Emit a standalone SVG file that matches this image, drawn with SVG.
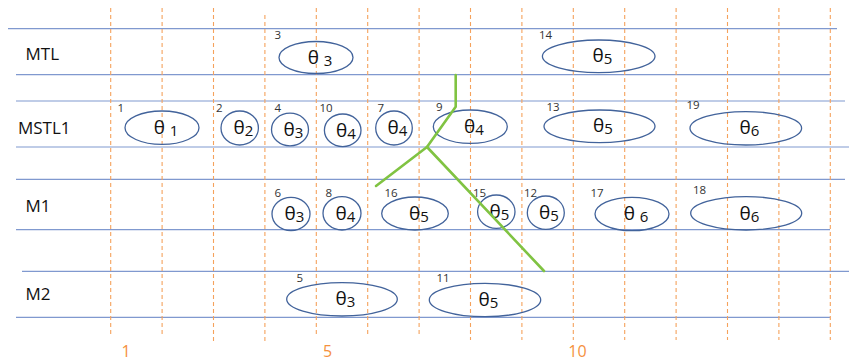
<svg xmlns="http://www.w3.org/2000/svg" width="849" height="362" viewBox="0 0 849 362">
<style>
.h{stroke:#8099cf;stroke-width:1.2;fill:none}
.v{stroke:#f5a25c;stroke-width:1.1;stroke-dasharray:4 3;fill:none}
.e{stroke:#42639b;stroke-width:1.3;fill:none}
.row{font-family:"Open Sans","Liberation Sans",sans-serif;font-size:17px;fill:#111}
.num{font-family:"Open Sans","Liberation Sans",sans-serif;font-size:11.5px;fill:#333}
.t{font-family:"Open Sans","Liberation Sans",sans-serif;font-size:19px;fill:#111;text-anchor:middle}
.s{font-size:15px}
.ax{font-family:"Open Sans","Liberation Sans",sans-serif;font-size:16px;fill:#f5913e;text-anchor:middle}
.g{stroke:#80c342;stroke-width:2.6;fill:none;stroke-linecap:round;stroke-linejoin:round}
</style>
<rect width="849" height="362" fill="#fff"/>
<g id="grid-h">
<line class="h" x1="8" y1="28.7" x2="837" y2="28.7"/>
<line class="h" x1="16" y1="74.7" x2="830" y2="74.7"/>
<line class="h" x1="16" y1="101" x2="845" y2="101"/>
<line class="h" x1="16" y1="147" x2="849" y2="147"/>
<line class="h" x1="16" y1="179.3" x2="845" y2="179.3"/>
<line class="h" x1="16" y1="229.7" x2="830" y2="229.7"/>
<line class="h" x1="22" y1="271.3" x2="849" y2="271.3"/>
<line class="h" x1="16" y1="317.3" x2="830" y2="317.3"/>
</g>
<g id="grid-v">
<line class="v" x1="110.7" y1="8" x2="110.7" y2="337"/>
<line class="v" x1="162.1" y1="8" x2="162.1" y2="337"/>
<line class="v" x1="213.5" y1="8" x2="213.5" y2="343"/>
<line class="v" x1="264.9" y1="15" x2="264.9" y2="343"/>
<line class="v" x1="316.3" y1="8" x2="316.3" y2="337"/>
<line class="v" x1="367.7" y1="8" x2="367.7" y2="337"/>
<line class="v" x1="419.1" y1="8" x2="419.1" y2="337"/>
<line class="v" x1="470.5" y1="8" x2="470.5" y2="340"/>
<line class="v" x1="521.9" y1="8" x2="521.9" y2="340"/>
<line class="v" x1="573.3" y1="8" x2="573.3" y2="340"/>
<line class="v" x1="624.7" y1="8" x2="624.7" y2="340"/>
<line class="v" x1="676.1" y1="8" x2="676.1" y2="340"/>
<line class="v" x1="727.5" y1="8" x2="727.5" y2="340"/>
<line class="v" x1="778.9" y1="8" x2="778.9" y2="340"/>
<line class="v" x1="830.3" y1="8" x2="830.3" y2="340"/>
</g>
<g id="row-labels">
<text class="row" x="25.5" y="60">MTL</text>
<text class="row" x="18" y="133.5">MSTL1</text>
<text class="row" x="25.5" y="211.5">M1</text>
<text class="row" x="25.5" y="299.5">M2</text>
</g>
<g id="axis">
<text class="ax" x="126" y="357">1</text>
<text class="ax" x="327.5" y="357">5</text>
<text class="ax" x="577.5" y="357">10</text>
</g>
<g id="n3"><ellipse class="e" cx="316" cy="57.5" rx="37" ry="16"/><text class="num" x="274.5" y="38.5">3</text><text class="t" x="320" y="64">θ <tspan class="s" dy="1.5">3</tspan></text></g>
<g id="n14"><ellipse class="e" cx="598.7" cy="56.3" rx="56.3" ry="16.3"/><text class="num" x="539" y="39">14</text><text class="t" x="602.5" y="62">θ<tspan class="s" dy="2">5</tspan></text></g>
<g id="n1"><ellipse class="e" cx="162" cy="127.7" rx="37" ry="16.7"/><text class="num" x="117.5" y="111.5">1</text><text class="t" x="166" y="134">θ <tspan class="s" dy="1.5">1</tspan></text></g>
<g id="n2"><ellipse class="e" cx="239.7" cy="128" rx="18.7" ry="17"/><text class="num" x="216" y="111.5">2</text><text class="t" x="243.5" y="134">θ<tspan class="s" dy="2">2</tspan></text></g>
<g id="n4"><ellipse class="e" cx="290" cy="129.5" rx="18.5" ry="16.3"/><text class="num" x="274.5" y="111.5">4</text><text class="t" x="293.5" y="135.5">θ<tspan class="s" dy="2">3</tspan></text></g>
<g id="n10"><ellipse class="e" cx="342.7" cy="130.3" rx="18.3" ry="16.3"/><text class="num" x="319.5" y="111.5">10</text><text class="t" x="346" y="136.5">θ<tspan class="s" dy="2">4</tspan></text></g>
<g id="n7"><ellipse class="e" cx="394" cy="128" rx="18.3" ry="17"/><text class="num" x="377.5" y="111.5">7</text><text class="t" x="397.5" y="134">θ<tspan class="s" dy="2">4</tspan></text></g>
<g id="n9"><ellipse class="e" cx="470.3" cy="126.7" rx="37" ry="16.7"/><text class="num" x="436" y="111">9</text><text class="t" x="474" y="132.5">θ<tspan class="s" dy="2">4</tspan></text></g>
<g id="n13"><ellipse class="e" cx="599.5" cy="126.3" rx="55.5" ry="16.3"/><text class="num" x="546.5" y="111">13</text><text class="t" x="603" y="132">θ<tspan class="s" dy="2">5</tspan></text></g>
<g id="n19"><ellipse class="e" cx="745.8" cy="128.3" rx="55.8" ry="16.7"/><text class="num" x="686.5" y="108.5">19</text><text class="t" x="749.5" y="134">θ<tspan class="s" dy="2">6</tspan></text></g>
<g id="n6"><ellipse class="e" cx="291" cy="214" rx="19" ry="16.7"/><text class="num" x="274.5" y="196.5">6</text><text class="t" x="294.5" y="220">θ<tspan class="s" dy="2">3</tspan></text></g>
<g id="n8"><ellipse class="e" cx="342" cy="213.3" rx="19" ry="16.7"/><text class="num" x="325.5" y="196.5">8</text><text class="t" x="345.5" y="219.5">θ<tspan class="s" dy="2">4</tspan></text></g>
<g id="n16"><ellipse class="e" cx="415" cy="213.5" rx="33.3" ry="16.5"/><text class="num" x="384.5" y="196.5">16</text><text class="t" x="419" y="219.5">θ<tspan class="s" dy="2">5</tspan></text></g>
<g id="n15"><ellipse class="e" cx="496.3" cy="211.7" rx="18.7" ry="16.7"/><text class="num" x="473" y="196.5">15</text><text class="t" x="499.5" y="217.5">θ<tspan class="s" dy="2">5</tspan></text></g>
<g id="n12"><ellipse class="e" cx="545.8" cy="212.7" rx="18.5" ry="16.7"/><text class="num" x="524" y="197">12</text><text class="t" x="549" y="218.5">θ<tspan class="s" dy="2">5</tspan></text></g>
<g id="n17"><ellipse class="e" cx="632" cy="214" rx="37" ry="16.7"/><text class="num" x="590.5" y="197">17</text><text class="t" x="636" y="220">θ <tspan class="s" dy="1.5">6</tspan></text></g>
<g id="n18"><ellipse class="e" cx="746.2" cy="213.3" rx="55.5" ry="16.7"/><text class="num" x="693" y="194">18</text><text class="t" x="749.5" y="219.5">θ<tspan class="s" dy="2">6</tspan></text></g>
<g id="n5"><ellipse class="e" cx="342" cy="299.3" rx="55.3" ry="16.7"/><text class="num" x="296.5" y="281.5">5</text><text class="t" x="345.5" y="305">θ<tspan class="s" dy="2">3</tspan></text></g>
<g id="n11"><ellipse class="e" cx="485" cy="300" rx="55.7" ry="16.7"/><text class="num" x="436.5" y="282">11</text><text class="t" x="488.5" y="306">θ<tspan class="s" dy="2">5</tspan></text></g>
<g id="connectors">
<polyline class="g" points="455.7,75 455.7,106.7 427,147 376,186"/>
<line class="g" x1="427" y1="147" x2="544" y2="271"/>
</g>
</svg>
